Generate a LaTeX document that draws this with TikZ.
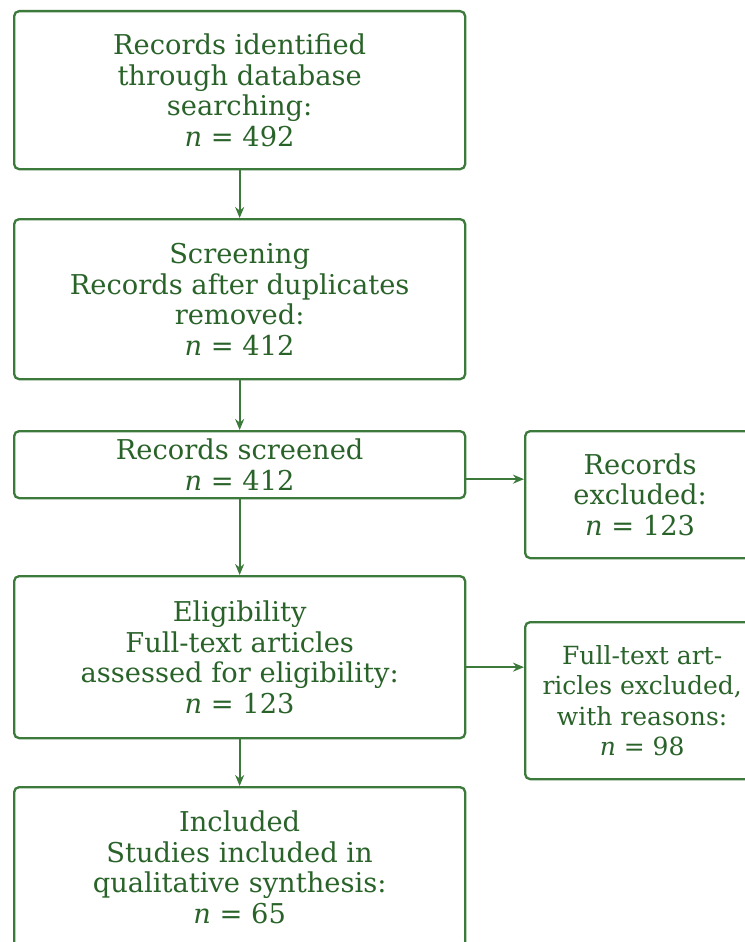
\documentclass[tikz,border=0pt]{standalone}
\usepackage{fontspec}
\setmainfont{DejaVu Serif}
\usetikzlibrary{arrows.meta,calc}
\definecolor{boxgreen}{HTML}{3B7A3B}
\definecolor{txtgreen}{HTML}{2A632A}
\begin{document}
\begin{tikzpicture}[x=1pt,y=-1pt,
  box/.style={draw=boxgreen, line width=2.3pt, rounded corners=5pt, align=center,
    text=txtgreen, font=\fontsize{27.3}{30.5}\selectfont, inner sep=0pt, anchor=north west},
  sidebox/.style={box, font=\fontsize{25}{30.5}\selectfont},
  arr/.style={draw=boxgreen, line width=2.3pt, -{Stealth[length=11pt,width=9pt]}}]
\useasboundingbox (0,0) rectangle (744,942);
\node[box, minimum width=451pt, minimum height=158pt] (b1) at (13,10)
  {Records identified\\through database\\searching:\\\textit{n} = 492};
\node[box, minimum width=451pt, minimum height=160pt] (b2) at (13,218)
  {Screening\\Records after duplicates\\removed:\\\textit{n} = 412};
\node[box, minimum width=451pt, minimum height=67pt] (b3) at (13,430)
  {Records screened\\\textit{n} = 412};
\node[box, minimum width=451pt, minimum height=162pt] (b4) at (13,575)
  {Eligibility\\Full-text articles\\assessed for eligibility:\\\textit{n} = 123};
\node[box, minimum width=451pt, minimum height=160pt] (b5) at (13,786)
  {Included\\Studies included in\\qualitative synthesis:\\\textit{n} = 65};
\node[box, minimum width=230pt, minimum height=127pt] (r1) at (524,430)
  {Records\\excluded:\\\textit{n} = 123};
\node[sidebox, minimum width=234pt, minimum height=157pt] (r2) at (524,621)
  {Full-text art-\\ricles excluded,\\with reasons:\\\textit{n} = 98};
\draw[arr] (b1.south) -- (b2.north);
\draw[arr] (b2.south) -- (b3.north);
\draw[arr] (b3.south) -- (b4.north);
\draw[arr] (b4.south) -- (b5.north);
\draw[arr] ([yshift=-14.5pt]b3.east) -- ([yshift=-14.5pt]b3.east -| r1.west);
\draw[arr] ([yshift=-10pt]b4.east) -- ([yshift=-10pt]b4.east -| r2.west);
\end{tikzpicture}
\end{document}
